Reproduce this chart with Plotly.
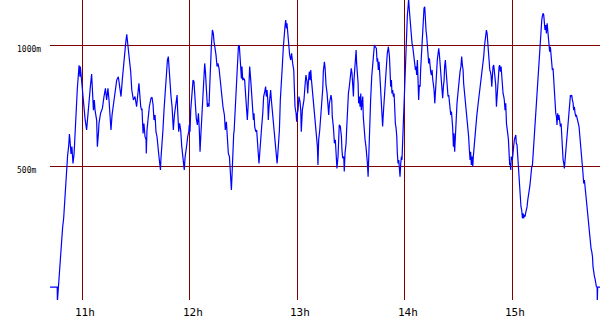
import plotly.graph_objects as go

# time in minutes since 10:00, altitude in metres
minutes = [
    42.0, 46.0, 46.1, 46.6,
    47.2, 47.6, 48.1, 48.7, 49.0, 49.6, 50.2, 50.7, 51.3, 51.8, 52.4, 52.8, 53.1, 53.7, 54.2, 54.8,
    55.4, 55.9, 56.3, 56.9, 57.2, 58.2, 58.7, 58.9, 59.6, 60.2, 60.6, 61.1, 61.5, 62.4, 63.0, 63.4,
    64.1, 64.5, 65.2, 65.8, 66.2, 66.7, 67.1, 68.0, 68.4, 69.0, 69.3, 70.2, 71.2, 72.1, 72.9, 73.6,
    74.3, 74.9, 75.5, 76.0, 76.6, 77.3, 77.9, 78.6, 79.2, 80.1, 80.7, 81.6, 82.3, 82.9, 83.5, 84.2,
    84.8, 85.7, 86.3, 87.0, 87.6, 88.5, 89.4, 90.3, 91.1, 91.6, 92.6, 93.1,
    93.3, 93.9, 94.4, 95.0, 95.6, 95.7, 96.1, 96.7, 97.4, 98.3, 98.9, 99.5, 100.0, 100.6, 101.1,
    101.7, 102.1, 102.6, 103.0, 103.6, 103.9, 104.5, 105.0, 105.6, 106.0, 106.5, 107.1, 107.5,
    108.0, 108.4, 108.9, 109.5, 110.1, 110.4, 110.8, 111.4, 111.7, 112.3, 112.9, 113.2, 113.4,
    113.8, 114.3, 114.9, 115.5, 116.0, 116.6, 116.9, 117.3, 117.9, 118.4, 118.8, 119.4, 119.7,
    120.1, 120.5, 120.9, 121.2, 121.8, 122.3, 122.7, 123.1, 123.6, 124.2, 124.8, 125.3, 125.7,
    126.1, 126.4, 127.0, 127.4, 127.9, 128.3, 128.7, 129.2, 129.8, 130.3, 130.7, 131.1, 131.5,
    132.0, 132.6, 133.1, 133.5, 134.1, 134.6, 135.2, 135.7, 136.3, 136.9, 137.4, 138.0, 138.5,
    139.3, 139.8, 140.4, 140.9, 141.5, 142.1, 142.6, 143.2, 143.6, 143.9, 144.5,
    144.7, 145.2, 145.8, 146.3, 146.7, 147.1, 147.6, 148.0, 148.4, 148.8, 149.1, 149.5, 150.1,
    150.6, 151.2, 151.7, 152.1, 152.5, 152.8, 153.4, 154.0, 154.5, 155.1, 155.5, 155.8, 156.2,
    156.8, 157.3, 157.7, 158.2, 158.6, 159.2, 159.5, 160.1, 160.7, 161.2, 161.8, 162.3, 162.7,
    163.1, 163.5, 163.8, 164.2, 164.8, 165.1, 165.5, 166.1, 166.6, 167.2, 167.7, 168.3, 168.7,
    169.0, 169.6, 170.0, 170.5, 171.1, 171.6, 172.2, 172.6, 173.1, 173.5, 173.9, 174.2, 174.6,
    175.2, 175.7, 176.3, 176.8, 177.4, 178.0, 178.3, 178.7, 179.3, 179.6, 180.0, 180.4, 180.9,
    181.5, 181.9, 182.2, 182.8, 183.4, 183.7, 184.3, 184.8, 185.4, 185.8, 186.1, 186.7, 187.1,
    187.5, 187.8, 188.2, 188.6, 189.0, 189.5, 189.9, 190.2, 190.6, 191.2, 191.5, 191.9, 192.5,
    193.0, 193.6, 194.2, 194.5, 195.1, 195.5, 195.8,
    196.0, 196.6, 197.1, 197.5, 197.9, 198.4, 198.8, 199.2, 199.5, 200.1, 200.7, 201.2, 201.8,
    202.1, 202.7, 203.1, 203.4, 204.0, 204.6, 204.9, 205.3, 205.9, 206.2, 206.6, 207.2, 207.5,
    207.9, 208.5, 209.0, 209.6, 210.1, 210.5, 210.9, 211.3, 211.6, 212.0, 212.4, 212.8, 213.1,
    213.5, 213.9, 214.2, 214.6, 215.0, 215.4, 215.7, 216.1, 216.5, 216.8, 217.2, 217.8, 218.3,
    218.7, 219.1, 219.5, 219.8, 220.2, 220.6, 220.9, 221.5, 222.1, 222.6, 223.0, 223.5, 224.1,
    224.5, 224.8, 225.2, 225.6, 226.2, 226.7, 227.3, 227.6, 228.0, 228.6, 229.1, 229.7, 230.2,
    230.8, 231.4, 231.7, 232.1, 232.5, 232.8, 233.2, 233.6, 234.0, 234.3, 234.7, 235.1, 235.5,
    235.8, 236.2, 236.6, 236.9, 237.3, 237.7, 238.1, 238.4, 238.8, 239.2, 239.5, 239.9, 240.3,
    240.7, 241.0, 241.4, 241.8, 242.1, 242.5, 242.9, 243.3, 243.6, 244.0, 244.4, 244.8, 245.1,
    245.5, 245.9, 246.2, 246.6, 247.0,
    247.4, 247.7, 248.1, 248.5, 248.8, 249.2, 249.6, 250.0, 250.3, 250.7, 251.1, 251.4, 251.8,
    252.2, 252.6, 252.9, 253.3, 253.7, 254.0, 254.4, 254.8, 255.2, 255.5, 255.9, 256.3, 256.7,
    257.0, 257.4, 257.8, 258.1, 258.5, 258.9, 259.3, 259.6, 260.0, 260.4, 260.7, 261.1, 261.5,
    261.9, 262.2, 262.6, 263.0, 263.3, 263.7, 264.1, 264.5, 264.8, 265.2, 265.6, 266.0, 266.3,
    266.7, 267.1, 267.4, 267.8, 268.2, 268.7, 269.1, 269.7, 270.2, 270.8, 271.3, 271.7, 272.1,
    272.5, 272.8, 273.4, 274.0, 274.5, 275.1, 275.6, 276.0, 276.4, 276.7, 277.1, 277.5, 277.9,
    278.2, 278.6, 279.0, 279.5, 280.1, 280.7, 281.2, 281.8, 282.3, 282.9, 283.4, 284.0, 284.4,
    284.7, 285.1, 285.5, 285.9, 286.2, 286.6, 287.0, 287.4, 287.7, 288.1, 288.5, 288.8, 289.2,
    289.6, 290.0, 290.3, 290.7, 291.1, 291.4, 291.8, 292.2, 292.6, 292.9, 293.3, 293.7, 294.0,
    294.4, 294.8, 295.2, 295.5, 295.9, 296.3, 296.7, 297.0, 297.4, 297.8, 298.1, 298.5,
    298.7, 299.1, 299.4, 300.0, 300.4, 300.7, 301.1, 301.5, 301.9, 302.2, 302.6, 303.0, 303.4,
    303.7, 304.1, 304.5, 304.8, 305.2, 305.6, 306.0, 306.3, 306.7, 307.1, 307.4, 307.8, 308.2,
    308.6, 308.9, 309.3, 309.7, 310.1, 310.4, 310.8, 311.2, 311.5, 311.9, 312.3, 312.7, 313.0,
    313.4, 313.8, 314.1, 314.5, 314.9, 315.3, 315.6, 316.0, 316.4, 316.7, 317.1, 317.5, 317.9,
    318.2, 318.6, 319.0, 319.4, 319.7, 320.1, 320.5, 320.8, 321.2, 321.6, 322.0, 322.3, 322.7,
    323.1, 323.4, 323.8, 324.2, 324.6, 324.9, 325.3, 325.7, 326.0, 326.4, 326.8, 327.2, 327.5,
    327.9, 328.3, 328.7, 329.0, 329.4, 329.8, 330.1, 330.5, 330.9, 331.3, 331.6, 332.0, 332.4,
    332.7, 333.1, 333.5, 333.9, 334.2, 334.6, 335.0, 335.4, 335.7, 336.1, 336.5, 336.8, 337.2,
    337.6, 338.0, 338.3, 338.7, 339.1, 339.4, 339.8, 340.2, 340.6, 340.9, 341.3, 341.7, 342.1,
    342.4, 342.8, 343.2, 343.5, 343.9, 344.3, 344.7, 345.0, 345.4, 345.8, 346.1, 346.5, 346.9,
    347.3, 347.4, 347.6, 349.0,
]

altitude_m = [
    0, 0, -60, 0,
    29, 90, 160, 215, 245, 284, 356, 431, 500, 544, 583, 632, 608, 550, 580, 511,
    550, 631, 686, 745, 817, 916, 869, 911, 849, 814, 759, 738, 697, 649, 711, 731,
    787, 828, 880, 800, 731, 773, 731, 690, 580, 635, 676, 718, 738, 787, 821, 773,
    821, 773, 718, 649, 711, 745, 787, 821, 855, 869, 828, 787, 855, 911, 945, 1007,
    1044, 993, 938, 890, 814, 773, 787, 745, 814, 842, 745, 731,
    738, 635, 676, 621, 608, 552, 649, 711, 745, 780, 784, 752, 690, 711, 642,
    621, 573, 552, 525, 484, 532, 580, 649, 731, 787, 851, 897, 938,
    952, 897, 835, 787, 745, 690, 649, 711, 731, 773, 793, 731, 676,
    642, 676, 649, 580, 552, 511, 484, 532, 559, 594, 621, 642, 670,
    642, 731, 773, 821, 855, 849, 787, 731, 697, 670, 718, 649, 559,
    621, 663, 759, 821, 890, 924, 890, 828, 745, 759, 745, 828, 931,
    993, 1062, 1048, 1014, 986, 959, 911, 924, 904, 855, 814, 773, 745,
    711, 649, 683, 608, 552, 539, 456, 401, 470, 552, 635,
    642, 718, 814, 897, 959, 993, 1000, 952, 897, 862, 911, 855, 862,
    855, 787, 718, 690, 745, 842, 911, 855, 773, 731, 690, 718, 663,
    642, 649, 580, 552, 511, 559, 594, 663, 718, 787, 807, 828, 787,
    814, 773, 690, 745, 800, 814, 773, 725, 697, 656, 594, 552, 511,
    539, 594, 649, 773, 828, 911, 993, 1048, 1076, 1103, 1069, 1090, 1048,
    993, 959, 938, 966, 924, 897, 828, 745, 718, 683, 718, 731, 787,
    766, 731, 642, 731, 759, 773, 835, 876, 849, 800, 842, 890, 855,
    897, 862, 828, 787, 759, 731, 690, 670, 621, 580, 504, 608, 649,
    704, 745, 821, 890, 931, 904, 842,
    835, 800, 759, 711, 759, 773, 793, 773, 704, 663, 594, 608, 552,
    490, 539, 608, 670, 663, 621, 566, 532, 539, 477, 552, 594, 649,
    731, 800, 828, 862, 904, 883, 828, 787, 855, 897, 924, 979, 924,
    883, 842, 759, 787, 745, 800, 731, 773, 787, 704, 649, 608, 580,
    552, 511, 456, 539, 580, 663, 773, 869, 924, 966, 1000, 993, 986,
    931, 945, 897, 931, 855, 787, 731, 663, 718, 773, 842, 911, 966,
    993, 952, 869, 828, 855, 800, 814, 787, 800, 731, 676, 656, 621,
    552, 511, 525, 484, 456, 511, 539, 525, 608, 690, 787, 828, 904,
    1021, 1083, 1124, 1158, 1190, 1145, 1103, 1076, 1048, 1007, 993, 959, 945,
    911, 897, 911, 876, 938,
    855, 773, 835, 828, 897, 959, 1007, 1048, 1103, 1152, 1158, 1103, 1062,
    1034, 993, 979, 924, 945, 904, 890, 876, 897, 862, 842, 814, 759,
    814, 842, 897, 938, 972, 986, 959, 924, 862, 835, 828, 780, 828,
    855, 911, 938, 897, 855, 800, 787, 793, 773, 745, 711, 725, 697,
    656, 580, 635, 559, 642, 711, 759, 807, 855, 890, 911, 952, 917,
    897, 842, 800, 759, 704, 663, 621, 566, 525, 559, 504, 539, 497,
    539, 580, 621, 649, 704, 745, 773, 814, 842, 869, 911, 952, 993,
    1014, 1048, 1062, 1048, 1007, 972, 924, 897, 890, 876, 828, 869, 911,
    917, 883, 869, 835, 745, 787, 842, 876, 911, 917, 890, 911, 869,
    842, 800, 787, 773, 731, 759, 676, 663, 635, 608, 552, 504,
    511, 484, 539, 525, 546, 580, 608, 621, 628, 594, 587, 539, 484,
    435, 387, 373, 332, 318, 284, 305, 284, 298, 291, 305, 318, 332,
    360, 373, 387, 415, 442, 470, 497, 504, 539, 594, 635, 676, 718,
    773, 814, 869, 911, 952, 1000, 1034, 1076, 1103, 1117, 1131, 1124, 1096,
    1062, 1083, 1048, 1090, 1055, 1028, 1000, 972, 993, 959, 924, 897, 904,
    842, 800, 745, 718, 704, 670, 718, 690, 711, 676, 663, 676, 621,
    566, 525, 511, 490, 525, 559, 594, 628, 663, 711, 745, 773, 793,
    787, 793, 773, 759, 731, 745, 718, 704, 711, 697, 690, 676, 663,
    628, 580, 546, 511, 497, 470, 428, 442, 408, 401, 360, 346, 305,
    270, 222, 194, 167, 160, 146, 126, 84, 50, 43, 36, 15, 1,
    0, -60, 0, 0,
]

hour_ticks = [60, 120, 180, 240, 300]
hour_labels = ["11h", "12h", "13h", "14h", "15h"]
alt_ticks = [500, 1000]
alt_labels = ["500m", "1000m"]

assert len(minutes) == len(altitude_m), (len(minutes), len(altitude_m))

fig = go.Figure()
fig.add_trace(go.Scatter(
    x=minutes, y=altitude_m, mode="lines",
    line=dict(color="#0000ff", width=1.2),
    showlegend=False, hoverinfo="skip",
))

grid = "#800000"
fig.update_layout(
    width=600, height=330,
    margin=dict(l=50, r=0, t=0, b=30),
    paper_bgcolor="white", plot_bgcolor="white",
    xaxis=dict(range=[41.97, 348.9], tickvals=hour_ticks, showticklabels=False,
               showgrid=True, gridcolor=grid, gridwidth=1, zeroline=False,
               showline=False, ticks=""),
    yaxis=dict(range=[-53.6, 1186], tickvals=alt_ticks, showticklabels=False,
               showgrid=True, gridcolor=grid, gridwidth=1, zeroline=False,
               showline=False, ticks=""),
)

annotations = []
for v, t in zip(hour_ticks, hour_labels):
    annotations.append(dict(
        x=v, y=0, xref="x", yref="paper", text=t, showarrow=False,
        xanchor="center", yanchor="middle", xshift=3, yshift=-12.5,
        font=dict(family="DejaVu Sans Mono", size=11, color="black"),
    ))
for v, t in zip(alt_ticks, alt_labels):
    annotations.append(dict(
        x=0, y=v, xref="paper", yref="y", text=t, showarrow=False,
        xanchor="left", yanchor="middle", xshift=-35, yshift=-4,
        font=dict(family="DejaVu Sans Mono", size=8, color="black"),
    ))
fig.update_layout(annotations=annotations)

fig.write_html("out.html")
